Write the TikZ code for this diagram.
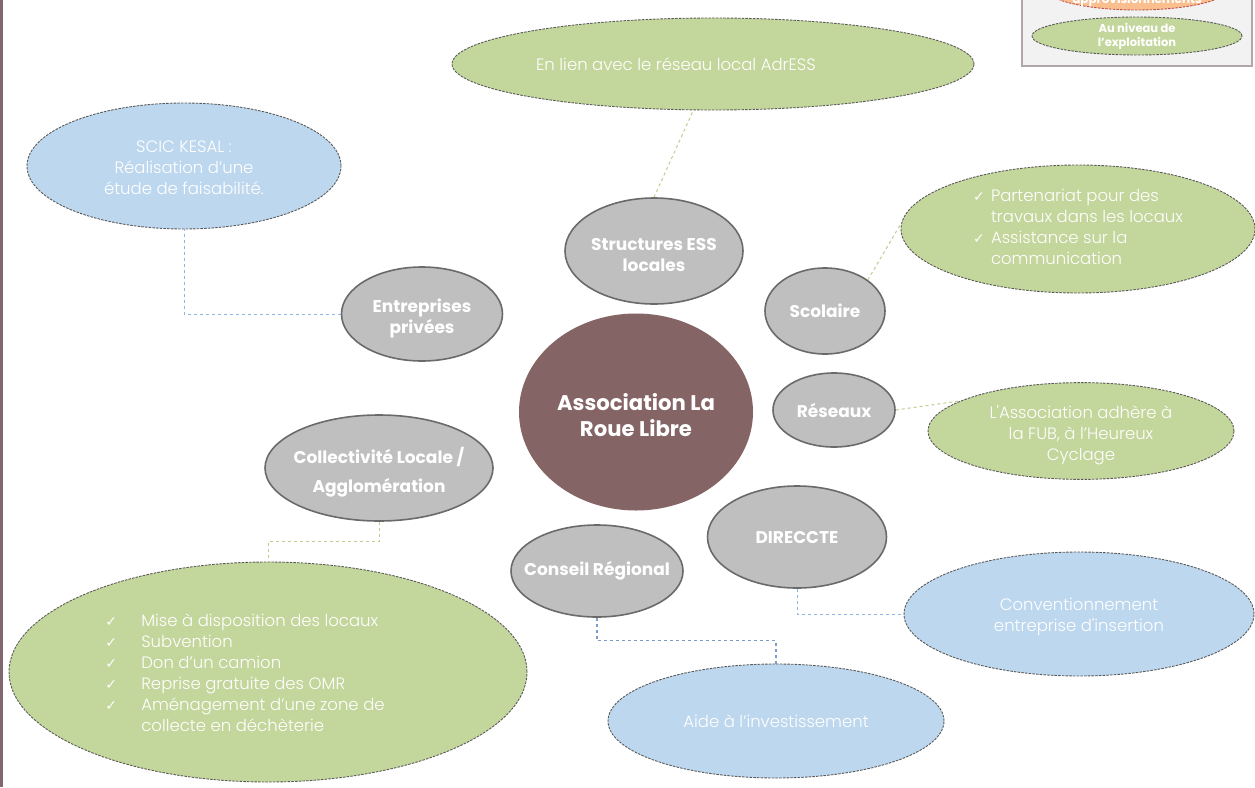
\documentclass[tikz,border=0pt]{standalone}
\usepackage{fontspec}
\setmainfont{Poppins}
\newfontfamily\lightfont{Poppins Light}
\newfontfamily\ckfont{DejaVu Sans}
\usetikzlibrary{shapes.geometric,backgrounds,calc}
\definecolor{hubfill}{HTML}{856466}
\definecolor{satfill}{HTML}{BFBFBF}
\definecolor{satline}{HTML}{6A6A6A}
\definecolor{spokecol}{HTML}{7F7F7F}
\definecolor{gfill}{HTML}{C3D69B}
\definecolor{bfill}{HTML}{BDD7EE}
\definecolor{calline}{HTML}{5A5A5A}
\definecolor{glink}{HTML}{B9CF8C}
\definecolor{blink}{HTML}{8DB4E2}
\definecolor{dblink}{HTML}{7F9CC8}
\definecolor{barcol}{HTML}{7F6870}
\definecolor{legfill}{HTML}{F2F2F2}
\definecolor{legline}{HTML}{B3A6AA}
\definecolor{ofill}{HTML}{FABF8F}
\definecolor{oline}{HTML}{C0504D}
\newcommand\myck{{\ckfont\fontsize{14}{21}\selectfont ✓}}
\newcommand\padtop[1]{\rule{0pt}{#1}}
\newcommand\dropby[2]{\raisebox{-#1}[\height][\depth]{#2}}
\begin{document}
\begin{tikzpicture}[x=1pt,y=-1pt,
  sat/.style={ellipse, draw=satline, fill=satfill, line width=1.6pt, inner sep=0pt,
    text=white, font=\bfseries\fontsize{17}{21}\selectfont, align=center},
  hub/.style={ellipse, fill=hubfill, inner sep=0pt, text=white,
    font=\bfseries\fontsize{21.2}{26}\selectfont, align=center},
  callout/.style={ellipse, draw=calline, dash pattern=on 2.5pt off 1.2pt, line width=0.9pt,
    inner sep=0pt, text=white, font=\lightfont\fontsize{16.5}{21}\selectfont},
  gcall/.style={callout, fill=gfill},
  bcall/.style={callout, fill=bfill},
  spoke/.style={draw=spokecol, line width=4pt},
  glinkst/.style={draw=glink, dashed, line width=1pt},
  blinkst/.style={draw=blink, dashed, line width=1pt},
  dblinkst/.style={draw=dblink, dashed, line width=1.2pt}]
\useasboundingbox (0,0) rectangle (1255,787);
\fill[white] (0,0) rectangle (1255,787);
\fill[barcol] (0,0) rectangle (2.5,787);

% legend
\path[fill=legfill, draw=legline, line width=1.2pt] (1022,-5) rectangle (1252,66);
\node[ellipse, fill=ofill, draw=oline, dash pattern=on 2.5pt off 1.2pt, line width=0.9pt,
  minimum width=184pt, minimum height=44pt, inner sep=0pt, text=white,
  font=\bfseries\fontsize{12}{14}\selectfont] (leg1) at (1137,-12)
  {\dropby{12pt}{approvisionnements}};
\node[ellipse, fill=gfill, draw=calline, dash pattern=on 2.5pt off 1.2pt, line width=0.9pt,
  minimum width=210pt, minimum height=38pt, inner sep=0pt, text=white,
  font=\bfseries\fontsize{11.5}{14}\selectfont, align=center] (leg2) at (1137,36)
  {Au niveau de\\l’exploitation};

% hub and satellites
\node[hub, minimum width=234pt, minimum height=197pt] (hub) at (636,412) {\padtop{24pt}Association La\\Roue Libre};
\node[sat, minimum width=178pt, minimum height=106pt] (ess) at (654,251) {\padtop{21pt}Structures ESS\\locales};
\node[sat, minimum width=161pt, minimum height=94pt] (ent) at (422,314) {\padtop{23pt}Entreprises\\privées};
\node[sat, minimum width=120pt, minimum height=86pt] (sco) at (825,311) {Scolaire};
\node[sat, minimum width=122pt, minimum height=74pt] (res) at (834,410) {Réseaux};
\node[sat, minimum width=179pt, minimum height=102pt] (dir) at (797,537) {DIRECCTE};
\node[sat, minimum width=172pt, minimum height=92pt] (cr) at (597,571) {\makebox[0pt]{Conseil Régional}};
\node[sat, minimum width=228pt, minimum height=106pt] (col) at (379,468)
  {\makebox[0pt]{\begin{tabular}{@{}c@{}}\padtop{26pt}Collectivité Locale /\\[8pt]Agglomération\end{tabular}}};

% callouts
\node[gcall, minimum width=522pt, minimum height=92pt] (adr) at (713,64)
  {En lien avec le réseau local AdrESS\hspace*{74pt}};
\node[bcall, minimum width=314pt, minimum height=126pt, align=center] (scic) at (184,166)
  {\padtop{16pt}SCIC KESAL :\\Réalisation d’une\\étude de faisabilité.};
\node[gcall, minimum width=354pt, minimum height=128pt] (scoc) at (1078,229)
  {\begin{tabular}{@{}l@{}}
   \makebox[18pt][l]{\myck}Partenariat pour des\\
   \hspace*{18pt}travaux dans les locaux\\
   \makebox[18pt][l]{\myck}Assistance sur la\\
   \hspace*{18pt}communication
   \end{tabular}};
\node[gcall, minimum width=306pt, minimum height=92pt, align=center] (resc) at (1081,431)
  {\padtop{22pt}L\textquotesingle Association adhère à\\la FUB, à l’Heureux\\Cyclage};
\node[bcall, minimum width=350pt, minimum height=124pt, align=center] (conv) at (1079,614)
  {\padtop{19pt}Conventionnement\\entreprise d\textquotesingle insertion};
\node[bcall, minimum width=336pt, minimum height=114pt] (aide) at (776,721)
  {Aide à l’investissement};
\node[gcall, minimum width=518pt, minimum height=220pt] (big) at (268,672)
  {\dropby{3pt}{\begin{tabular}{@{}l@{}}
   \makebox[36pt][l]{\myck}Mise à disposition des locaux\\
   \makebox[36pt][l]{\myck}Subvention\\
   \makebox[36pt][l]{\myck}Don d’un camion\\
   \makebox[36pt][l]{\myck}Reprise gratuite des OMR\\
   \makebox[36pt][l]{\myck}Aménagement d’une zone de\\
   \hspace*{36pt}collecte en déchèterie
   \end{tabular}}\hspace*{46pt}};

% spokes
\begin{scope}[on background layer]
\draw[spoke] (ess.-105) -- (hub.90);
\draw[spoke] (ent.-13) -- (hub.145);
\draw[spoke] (sco.178) -- (hub.43);
\draw[spoke] (res.182) -- (hub.-1);
\draw[spoke] (dir.90) -- (hub.-24);
\draw[spoke] (cr.47) -- (hub.-90);
\draw[spoke] (col.2.5) -- (hub.206.8);
\end{scope}

% dashed links
\draw[blinkst] (ent.west) -| (scic.south);
\draw[glinkst] (ess.north) -- (adr.-113.5);
\draw[glinkst] (sco.36) -- (scoc.178);
\draw[glinkst] (res.east) -- (resc.166.5);
\draw[glinkst] (col.south) |- ($(col.south)!0.5!(big.north)$) -| (big.north);
\draw[dblinkst] (cr.south) |- ($(cr.south)!0.5!(aide.north)$) -| (aide.north);
\draw[blinkst] (dir.south) |- (conv.west);
\end{tikzpicture}
\end{document}
